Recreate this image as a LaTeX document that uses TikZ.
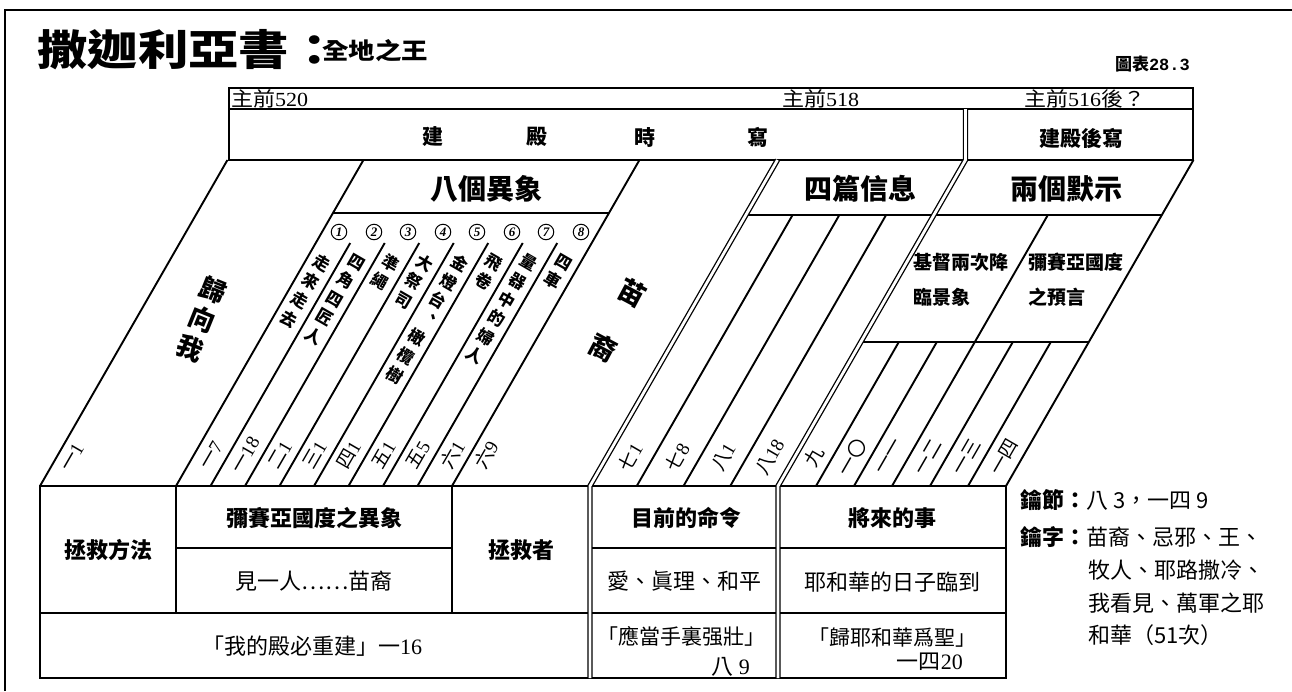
\documentclass[tikz,border=0pt]{standalone}
\usepackage{fontspec}
\setmainfont{Liberation Serif}
\newfontfamily\cjk{Noto Sans CJK TC}
\newfontfamily\monob{Liberation Mono}
\newcommand\slantx[2]{0+(#1)+0.575*(486-(#2))}
\begin{document}
\begin{tikzpicture}[x=1pt,y=-1pt,
  ln/.style={line width=1.9pt},
  tbl/.style={line width=2pt},
  tlbox/.style={line width=1.6pt},
  dbl/.style={line width=1.3pt, double=white, double distance=2.8pt},
  hd/.style={font=\cjk\bfseries\fontsize{28}{30}\selectfont, inner sep=0pt},
  tlt/.style={font=\fontsize{20}{20}\selectfont, anchor=west, inner sep=0pt, xscale=1.1},
  midhd/.style={font=\cjk\bfseries\fontsize{21}{21}\selectfont, inner sep=0pt},
  vtxt/.style={anchor=north, rotate=-30, align=center, inner sep=0pt, font=\cjk\bfseries\fontsize{16.5}{21.5}\selectfont},
  lab/.style={rotate=60, inner sep=0pt, font=\fontsize{19}{19}\selectfont},
  circ/.style={circle, draw, line width=1pt, inner sep=0pt, minimum size=15.5pt, font=\bfseries\itshape\fontsize{13}{13}\selectfont},
  cellb/.style={font=\cjk\bfseries\fontsize{22}{22}\selectfont, inner sep=0pt},
  cell/.style={font=\cjk\fontsize{22}{22}\selectfont, inner sep=0pt},
  note/.style={font=\cjk\fontsize{22}{22}\selectfont, anchor=west, inner sep=0pt},
  boxtxt/.style={font=\cjk\bfseries\fontsize{19}{35}\selectfont, anchor=west, align=left, inner sep=0pt}
]
\fill[white] (0,0) rectangle (1292,691);
\useasboundingbox (0,0) rectangle (1292,691);

% frame
\draw[line width=1.4pt] (5,691) -- (5,10) -- (1292,10);

% title
\node[anchor=west, inner sep=0pt, font=\cjk\bfseries\fontsize{42}{44}\selectfont, xscale=1.2] (title) at (37,50) {撒迦利亞書：};
\node[anchor=west, inner sep=0pt, font=\cjk\bfseries\fontsize{23}{24}\selectfont, xscale=1.15] (subtitle) at (322,51) {全地之王};
\node[anchor=east, inner sep=0pt, font=\bfseries\fontsize{17}{17}\selectfont] (chart) at (1190,64) {{\cjk 圖表}{\monob 28.3}};

% timeline box
\draw[tlbox] (229,88) rectangle (1193,160);
\draw[tlbox] (229,109) -- (1193,109);
\node[tlt] (t520) at (231,98.5) {{\cjk 主前}520};
\node[tlt] (t518) at (782,98.5) {{\cjk 主前}518};
\node[tlt] (t516) at (1024,98.5) {{\cjk 主前}516{\cjk 後？}};
\node[midhd] (j1) at (433,137) {建};
\node[midhd] (j2) at (537,137) {殿};
\node[midhd] (j3) at (645,137) {時};
\node[midhd] (j4) at (758,137) {寫};
\node[midhd] (jh) at (1081,138) {建殿後寫};

% slanted structure
\draw[ln] (40,486) -- ({\slantx{40}{160}},160);
\draw[ln] (176,486) -- ({\slantx{176}{160}},160);
\draw[ln] (452,486) -- ({\slantx{452}{160}},160);
\foreach \b in {210.5,245,279.5,314,348.5,383,417.5}
  \draw[ln] (\b,486) -- ({\slantx{\b}{243}},243);
\draw[ln] ({\slantx{176}{213}},213) -- ({\slantx{452}{213}},213);
\foreach \b in {636.75,683.5,730.25}
  \draw[ln] (\b,486) -- ({\slantx{\b}{215}},215);
\draw[ln] ({\slantx{590}{215}},215) -- ({\slantx{778}{215}},215);
\draw[ln] (1006,486) -- ({\slantx{1006}{160}},160);
\draw[ln] ({\slantx{778}{215}},215) -- ({\slantx{1006}{215}},215);
\draw[ln] (892,486) -- ({\slantx{892}{215}},215);
\draw[ln] ({\slantx{778}{342}},342) -- ({\slantx{1006}{342}},342);
\foreach \b in {816,854,930,968}
  \draw[ln] (\b,486) -- ({\slantx{\b}{342}},342);

% table
\draw[tbl] (40,486) rectangle (1006,678);
\draw[tbl] (176,486) -- (176,613);
\draw[tbl] (452,486) -- (452,613);
\draw[tbl] (176,548) -- (452,548);
\draw[tbl] (40,613) -- (1006,613);
\draw[tbl] (590,548) -- (1006,548);

% double lines
\draw[dbl] (590,678) -- (590,486) -- ({\slantx{590}{160}},160);
\draw[dbl] (778,678) -- (778,486) -- ({\slantx{778}{160}},160) -- ({\slantx{778}{160}},109);

% headers
\node[hd] (h1) at (486,189) {八個異象};
\node[hd] (h2) at (860,189) {四篇信息};
\node[hd] (h3) at (1066,189) {兩個默示};

% circled numbers
\foreach \n/\x in {1/339,2/374,3/408,4/443,5/477,6/512,7/546,8/581}
  \node[circ] (c\n) at (\x,232) {\n};

% vision texts
\node[vtxt] (v1) at (325.5,256) {走\\來\\走\\去};
\node[vtxt] (v2) at (360,256) {四\\角\\四\\匠\\人};
\node[vtxt] (v3) at (394.5,256) {準\\繩};
\node[vtxt] (v4) at (429,256) {大\\祭\\司};
\node[vtxt] (v5) at (463.5,256) {金\\燈\\台\\︑\\橄\\欖\\樹};
\node[vtxt] (v6) at (498,256) {飛\\卷};
\node[vtxt] (v7) at (532.5,256) {量\\器\\中\\的\\婦\\人};
\node[vtxt] (v8) at (567,256) {四\\車};

\node[font=\cjk\bfseries\fontsize{26}{31}\selectfont, rotate=-22, align=center, inner sep=0pt] (gxw) at (202,319) {歸\\向\\我};
\node[font=\cjk\bfseries\fontsize{27}{62}\selectfont, rotate=-28, align=center, inner sep=0pt] (miao) at (618,320) {苗\\裔};

% reference labels
\node[lab] (r0) at (72,457) {\cjk 一\rmfamily 1};
\node[lab] (r1) at (211,455) {\cjk 一\rmfamily 7};
\node[lab] (r2) at (245.5,455) {\cjk 一\rmfamily 18};
\node[lab] (r3) at (280,455) {\cjk 二\rmfamily 1};
\node[lab] (r4) at (314.5,455) {\cjk 三\rmfamily 1};
\node[lab] (r5) at (349,455) {\cjk 四\rmfamily 1};
\node[lab] (r6) at (383.5,455) {\cjk 五\rmfamily 1};
\node[lab] (r7) at (418,455) {\cjk 五\rmfamily 5};
\node[lab] (r8) at (452.5,455) {\cjk 六\rmfamily 1};
\node[lab] (r9) at (486,455) {\cjk 六\rmfamily 9};
\node[lab] (s1) at (630,457) {\cjk 七\rmfamily 1};
\node[lab] (s2) at (677,457) {\cjk 七\rmfamily 8};
\node[lab] (s3) at (723.5,457) {\cjk 八\rmfamily 1};
\node[lab] (s4) at (770,457) {\cjk 八\rmfamily 18};
\node[lab] (u1) at (814,457) {\cjk 九};
\node[lab] (u2) at (852,457) {\cjk 一〇};
\node[lab] (u3) at (890,457) {\cjk 一一};
\node[lab] (u4) at (928,457) {\cjk 一二};
\node[lab] (u5) at (966,457) {\cjk 一三};
\node[lab] (u6) at (1004,457) {\cjk 一四};

% two oracles box
\node[boxtxt] (o1) at (913,280) {基督兩次降\\臨景象};
\node[boxtxt] (o2) at (1028,280) {彌賽亞國度\\之預言};

% table texts
\node[cellb] (a1) at (108,550) {拯救方法};
\node[cellb] (a2) at (314,518) {彌賽亞國度之異象};
\node[cell] (a3) at (314,581) {見一人⋯⋯苗裔};
\node[cellb] (a4) at (521,550) {拯救者};
\node[cell] (a5) at (312,646) {「我的殿必重建」一{\rmfamily 16}};
\node[cellb] (b1) at (686,518) {目前的命令};
\node[cellb] (b2) at (892,518) {將來的事};
\node[cell] (b3) at (684,581) {愛、眞理、和平};
\node[cell] (b4) at (892,582) {耶和華的日子臨到};
\node[cell, font=\cjk\fontsize{21}{21}\selectfont] (b5) at (681,636) {「應當手裏强壯」};
\node[cell, anchor=east] (b6) at (750,667) {八 {\rmfamily 9}};
\node[cell, font=\cjk\fontsize{21}{21}\selectfont] (b7) at (892,638) {「歸耶和華爲聖」};
\node[cell, anchor=east] (b8) at (963,662) {一四{\rmfamily 20}};

% notes
\node[note] (n1) at (1020,500) {{\bfseries 鑰節：}八 3，一四 9};
\node[note] (n2) at (1020,537) {{\bfseries 鑰字：}苗裔、忌邪、王、};
\node[note] (n3) at (1088,570) {牧人、耶路撒冷、};
\node[note] (n4) at (1088,603) {我看見、萬軍之耶};
\node[note] (n5) at (1088,635) {和華（51次）};
\end{tikzpicture}
\end{document}
